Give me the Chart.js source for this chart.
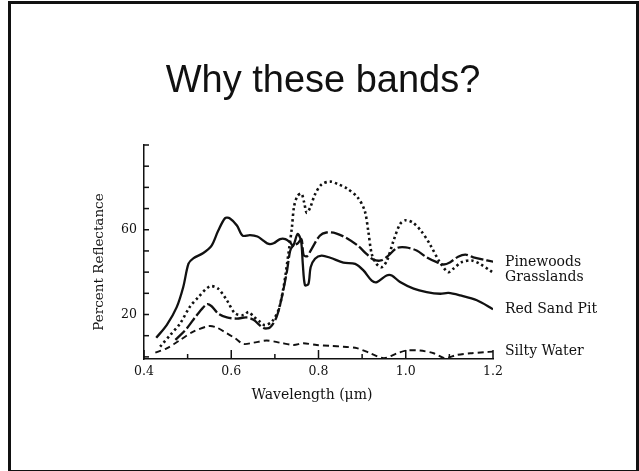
<!DOCTYPE html>
<html>
<head>
<meta charset="utf-8">
<script src="https://cdn.jsdelivr.net/npm/chart.js@4"></script>
<style>
  html, body { margin: 0; padding: 0; background: #fff; }
  body { width: 639px; height: 471px; position: relative; overflow: hidden; }
  #frame { position: absolute; left: 8px; top: 1px; width: 631px; height: 472px; box-sizing: border-box; border: 3px solid #111; }
  #c { position: absolute; left: 0; top: 0; }
</style>
</head>
<body>
<div id="frame"></div>
<canvas id="c" width="639" height="471"></canvas>
<script>
const titleText = 'Why these bands?';
const xTitle = 'Wavelength (\u03bcm)';
const yTitle = 'Percent Reflectance';
const xLabelTicks = [0.4, 0.6, 0.8, 1.0, 1.2];
const yLabelTicks = [20, 60];

const seriesNames = ['Pinewoods', 'Grasslands', 'Red Sand Pit', 'Silty Water'];

const pinewoodsX = [0.472,0.498,0.521,0.544,0.555,0.57,0.59,0.613,0.635,0.651,0.674,0.689,0.704,0.716,0.728,0.735,0.742,0.752,0.761,0.766,0.774,0.784,0.803,0.818,0.84,0.865,0.89,0.91,0.925,0.943,0.96,0.98,1.0,1.025,1.048,1.071,1.087,1.102,1.12,1.137,1.155,1.186,1.207];
const pinewoodsY = [8,13.4,19.7,24.8,23.9,20.5,18.6,18.1,18.6,17.5,13.6,13.9,18.9,28.3,40.8,50,52.5,53.5,55.5,48,47.5,50.9,57.2,58.7,58.3,56,52.5,48.6,46,45.5,47.8,51.4,51.7,50.2,47,44.7,43.6,44.7,47.3,48.3,47,45.5,44.7];

const grasslandsX = [0.437,0.46,0.483,0.505,0.525,0.551,0.57,0.59,0.609,0.628,0.64,0.651,0.666,0.677,0.693,0.708,0.72,0.731,0.739,0.744,0.752,0.761,0.767,0.773,0.781,0.792,0.807,0.827,0.845,0.865,0.89,0.906,0.914,0.922,0.933,0.945,0.957,0.972,0.987,1.0,1.016,1.035,1.055,1.078,1.097,1.109,1.128,1.151,1.17,1.193,1.215];
const grasslandsY = [4.8,10.3,15.8,23.6,28.3,33.3,32.2,26.7,20.5,19.7,21.2,19,16.6,15,16.6,22,33,48.6,61,71,76,77,73,68,70.5,76.7,81.4,82.7,81.5,79.5,75.2,68.9,59.5,48.6,43.9,42.3,45.5,54.8,62.7,64.5,63.4,59.5,53.3,44.7,40,41.6,44.7,45.5,43.9,40.8,37.7];

const redSandX = [0.428,0.452,0.475,0.49,0.502,0.513,0.536,0.555,0.57,0.586,0.597,0.613,0.626,0.643,0.66,0.674,0.686,0.697,0.712,0.724,0.735,0.742,0.752,0.76,0.764,0.769,0.777,0.782,0.792,0.807,0.827,0.857,0.884,0.903,0.922,0.934,0.956,0.968,0.987,1.018,1.048,1.079,1.098,1.125,1.163,1.2];
const redSandY = [9,15,23.5,33,44,46.5,49,52.5,59.5,65.5,65.3,62,57.2,57.5,56.8,54.8,53.3,53.6,55.6,55.6,54,52.5,58,54.8,43.9,33.8,34.5,42.3,46.3,47.8,46.8,44.5,43.9,40.8,36,35.3,38.4,38.4,35.3,32.2,30.6,29.8,30.2,29,26.7,22.5];

const siltyX = [0.426,0.452,0.483,0.513,0.548,0.566,0.59,0.609,0.628,0.651,0.681,0.712,0.743,0.765,0.796,0.827,0.857,0.888,0.919,0.95,0.98,1.002,1.033,1.064,1.09,1.117,1.148,1.18,1.2];
const siltyY = [2,4,8,11.9,14.5,13.9,11.1,8.75,6.1,6.7,7.7,6.7,5.6,6.4,5.6,5.2,4.8,4.1,1.7,-0.6,1.7,3,3,1.7,-0.6,0.9,1.7,2.2,2.5];

function pts(xs, ys) { return xs.map((x, i) => ({ x: x, y: ys[i] })); }

const ink = '#111';

const decorPlugin = {
  id: 'decor',
  afterDraw(chart) {
    const ctx = chart.ctx;
    const xs = chart.scales.x, ys = chart.scales.y;
    const area = chart.chartArea;
    ctx.save();
    ctx.strokeStyle = ink;
    ctx.lineWidth = 1.5;
    for (let k = 0; k <= 8; k++) {
      const v = 0.4 + k * 0.1;
      const px = xs.getPixelForValue(v);
      const len = (k % 2 === 0) ? 9 : 5;
      ctx.beginPath();
      ctx.moveTo(px, area.bottom);
      ctx.lineTo(px, area.bottom - len);
      ctx.stroke();
    }
    for (let v = 0; v <= 100; v += 10) {
      const py = ys.getPixelForValue(v);
      ctx.beginPath();
      ctx.moveTo(area.left, py);
      ctx.lineTo(area.left + 5, py);
      ctx.stroke();
    }
    ctx.fillStyle = ink;
    ctx.font = '14px "DejaVu Serif"';
    ctx.textAlign = 'left';
    ctx.textBaseline = 'middle';
    chart.data.datasets.forEach((ds, i) => {
      const meta = chart.getDatasetMeta(i);
      const last = meta.data[meta.data.length - 1];
      ctx.fillText(ds.label, area.right + 12, last.y);
    });
    // axis titles
    ctx.textAlign = 'center';
    ctx.font = '14px "DejaVu Serif"';
    ctx.fillText(xTitle, 312, 395);
    ctx.save();
    ctx.translate(99, 262);
    ctx.rotate(-Math.PI / 2);
    ctx.font = '13.5px "DejaVu Serif"';
    ctx.fillText(yTitle, 0, 0);
    ctx.restore();
    // slide title
    ctx.font = '38px "Liberation Sans"';
    ctx.textAlign = 'center';
    ctx.textBaseline = 'alphabetic';
    ctx.fillText(titleText, 323, 92);
    ctx.restore();
  }
};

new Chart(document.getElementById('c'), {
  type: 'line',
  data: {
    datasets: [
      { label: seriesNames[0], data: pts(pinewoodsX, pinewoodsY), borderColor: ink, borderWidth: 2.3, borderDash: [13, 3] },
      { label: seriesNames[1], data: pts(grasslandsX, grasslandsY), borderColor: ink, borderWidth: 2.6, borderDash: [2.4, 3] },
      { label: seriesNames[2], data: pts(redSandX, redSandY), borderColor: ink, borderWidth: 2.3 },
      { label: seriesNames[3], data: pts(siltyX, siltyY), borderColor: ink, borderWidth: 1.9, borderDash: [6, 4] }
    ]
  },
  options: {
    responsive: false,
    animation: false,
    devicePixelRatio: 1,
    layout: { padding: { top: 145, right: 146, bottom: 62, left: 86 } },
    elements: { point: { radius: 0 }, line: { tension: 0.3, fill: false } },
    plugins: { legend: { display: false }, tooltip: { enabled: false }, title: { display: false } },
    scales: {
      x: {
        type: 'linear', min: 0.4, max: 1.2,
        afterFit(s) { s.height = 50; },
        afterBuildTicks(s) { s.ticks = xLabelTicks.map(v => ({ value: v })); },
        ticks: { color: ink, font: { family: 'DejaVu Serif', size: 12.5 }, padding: 5, maxRotation: 0, autoSkip: false,
                 callback: v => Number(v).toFixed(1) },
        grid: { drawOnChartArea: false, drawTicks: false },
        border: { display: true, color: ink, width: 1.5 },
        title: { display: false }
      },
      y: {
        type: 'linear', min: -1, max: 100,
        afterFit(s) { s.width = 58; },
        afterBuildTicks(s) { s.ticks = yLabelTicks.map(v => ({ value: v })); },
        ticks: { color: ink, font: { family: 'DejaVu Serif', size: 12.5 }, padding: 7, autoSkip: false },
        grid: { drawOnChartArea: false, drawTicks: false },
        border: { display: true, color: ink, width: 1.5 },
        title: { display: false }
      }
    }
  },
  plugins: [decorPlugin]
});
</script>
</body>
</html>
